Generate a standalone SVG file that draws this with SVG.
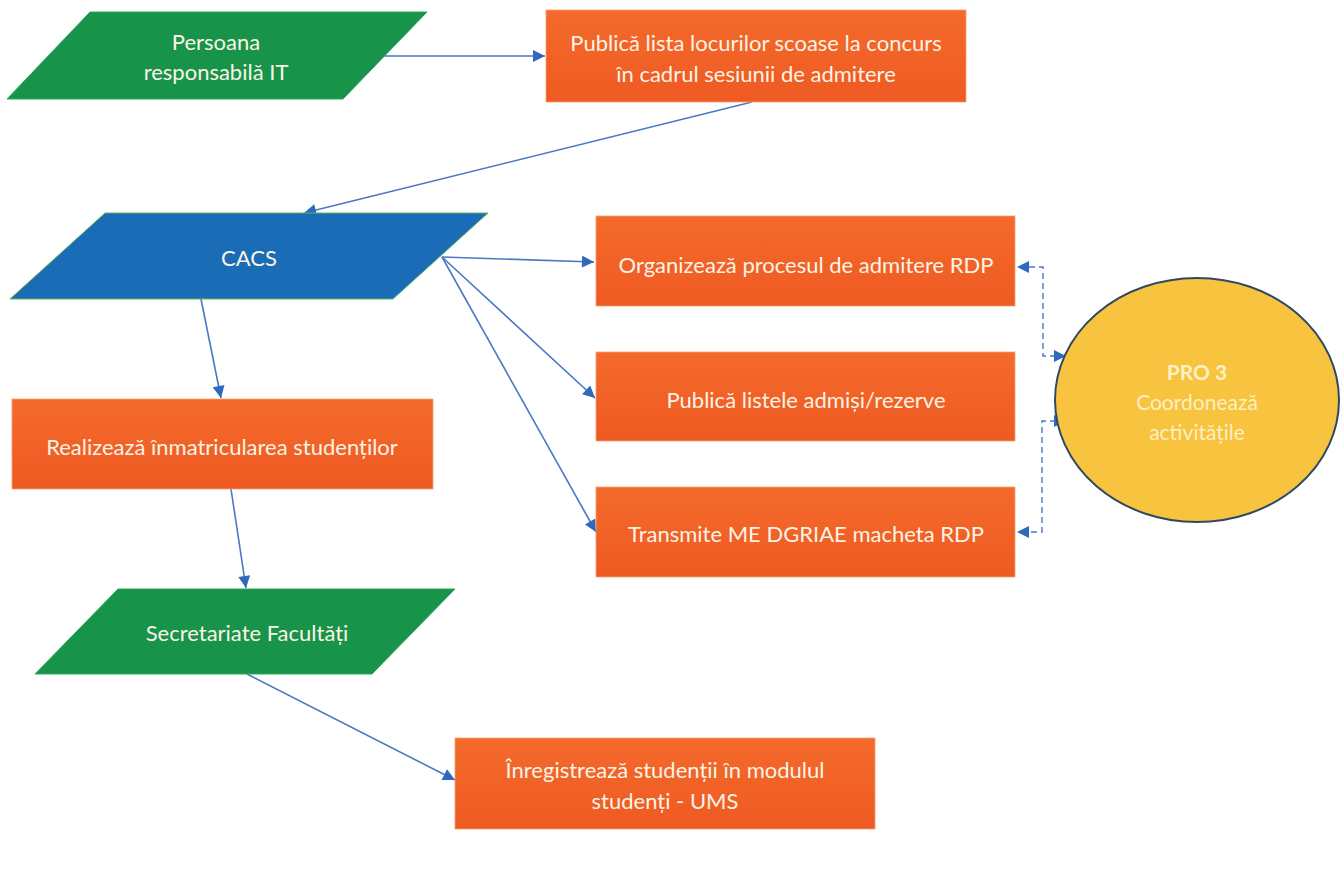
<svg xmlns="http://www.w3.org/2000/svg" width="1341" height="874" viewBox="0 0 1341 874">
<style>
.green{fill:#17934a;stroke:#2aa85a;stroke-width:1}
.blue{fill:#1b6cb6;stroke:#5cb85c;stroke-width:1}
.orange{fill:url(#og);stroke:#f7a070;stroke-width:0.8}
.t{font-family:Lato,"Liberation Sans",sans-serif;font-size:22px;fill:#fbf4e6;text-anchor:middle}
.conn{fill:none;stroke:#4a78c4;stroke-width:1.6}
.dash{fill:none;stroke:#4a78c4;stroke-width:1.4;stroke-dasharray:6 4}
.ell{fill:#f8c33e;stroke:#2e4a63;stroke-width:2}
.et{font-family:Lato,"Liberation Sans",sans-serif;font-size:21px;fill:#fdf0c4;text-anchor:middle}
</style>
<defs>
<linearGradient id="og" x1="0" y1="0" x2="0" y2="1">
<stop offset="0" stop-color="#f46a2c"/>
<stop offset="1" stop-color="#ef5a22"/>
</linearGradient>
<marker id="ah" viewBox="0 0 10 10" refX="10" refY="5" markerWidth="14" markerHeight="12" markerUnits="userSpaceOnUse" orient="auto">
<path d="M0,0 L10,5 L0,10 z" fill="#2f68bd"/>
</marker>
<marker id="ah2" viewBox="0 0 10 10" refX="10" refY="5" markerWidth="14" markerHeight="12" markerUnits="userSpaceOnUse" orient="auto-start-reverse">
<path d="M0,0 L10,5 L0,10 z" fill="#2f68bd"/>
</marker>
</defs>
<rect width="1341" height="874" fill="#ffffff"/>

<g id="connectors">
<line class="conn" x1="384" y1="56" x2="545" y2="56" marker-end="url(#ah)"/>
<line class="conn" x1="752" y1="102" x2="304" y2="213" marker-end="url(#ah)"/>
<line class="conn" x1="442" y1="257" x2="594" y2="262" marker-end="url(#ah)"/>
<line class="conn" x1="442" y1="257" x2="595" y2="398" marker-end="url(#ah)"/>
<line class="conn" x1="442" y1="257" x2="596" y2="532" marker-end="url(#ah)"/>
<line class="conn" x1="201" y1="299" x2="221" y2="398" marker-end="url(#ah)"/>
<line class="conn" x1="231" y1="489" x2="246" y2="588" marker-end="url(#ah)"/>
<line class="conn" x1="247" y1="674" x2="455" y2="780" marker-end="url(#ah)"/>
<polyline class="dash" points="1066,356 1043,356 1043,267 1017,267" marker-start="url(#ah2)" marker-end="url(#ah)"/>
<polyline class="dash" points="1066,421 1042,421 1042,532 1017,532" marker-start="url(#ah2)" marker-end="url(#ah)"/>
</g>

<g id="persoana">
<polygon class="green" points="90,12 427,12 343,99 7,99"/>
<text class="t" x="216" y="50">Persoana</text>
<text class="t" x="216" y="80">responsabilă IT</text>
</g>

<g id="publica-lista">
<rect class="orange" x="546" y="10" width="420" height="92"/>
<text class="t" x="756" y="51">Publică lista locurilor scoase la concurs</text>
<text class="t" x="756" y="82">în cadrul sesiunii de admitere</text>
</g>

<g id="cacs">
<polygon class="blue" points="105,213 488,213 393,299 10,299"/>
<text class="t" x="249" y="266">CACS</text>
</g>

<g id="organizeaza">
<rect class="orange" x="596" y="216" width="419" height="90"/>
<text class="t" x="806" y="273">Organizează procesul de admitere RDP</text>
</g>

<g id="publica-listele">
<rect class="orange" x="596" y="352" width="419" height="89"/>
<text class="t" x="806" y="408">Publică listele admiși/rezerve</text>
</g>

<g id="transmite">
<rect class="orange" x="596" y="487" width="419" height="90"/>
<text class="t" x="806" y="542">Transmite ME DGRIAE macheta RDP</text>
</g>

<g id="realizeaza">
<rect class="orange" x="12" y="399" width="421" height="90"/>
<text class="t" x="222" y="455">Realizează înmatricularea studenților</text>
</g>

<g id="secretariate">
<polygon class="green" points="118,589 455,589 372,674 35,674"/>
<text class="t" x="247" y="641">Secretariate Facultăți</text>
</g>

<g id="inregistreaza">
<rect class="orange" x="455" y="738" width="420" height="91"/>
<text class="t" x="665" y="778">Înregistrează studenții în modulul</text>
<text class="t" x="665" y="809">studenți - UMS</text>
</g>

<g id="pro3">
<ellipse class="ell" cx="1197" cy="400" rx="142" ry="122"/>
<text class="et" x="1197" y="380" font-weight="bold" font-size="23">PRO 3</text>
<text class="et" x="1197" y="410">Coordonează</text>
<text class="et" x="1197" y="440">activitățile</text>
</g>
</svg>
